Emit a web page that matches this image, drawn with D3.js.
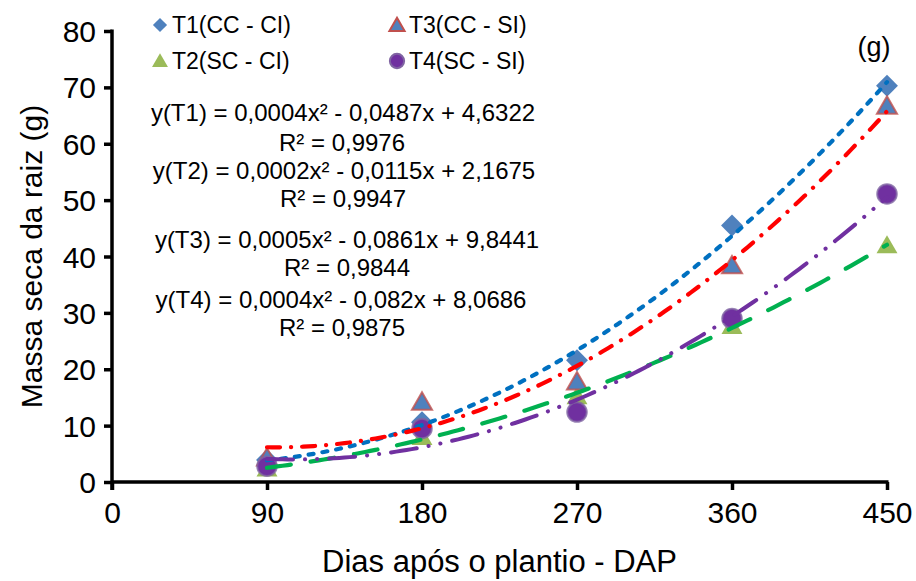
<!DOCTYPE html>
<html>
<head>
<meta charset="utf-8">
<script src="https://cdn.jsdelivr.net/npm/d3@7"></script>
<style>
  body { margin: 0; background: #fff; }
  svg { font-family: "Liberation Sans", Arial, sans-serif; }
</style>
</head>
<body>
<div id="chart"></div>
<script>
// dias após o plantio
const days = [90, 180, 270, 360, 450];
const xTicks = [0, 90, 180, 270, 360, 450];
const yTicks = [0, 10, 20, 30, 40, 50, 60, 70, 80];

// massa seca da raiz (g)
const t1 = [3.9, 10.6, 21.6, 45.5, 70.3];
const t2 = [2.4, 8.0, 15.2, 27.7, 42.0];
const t3 = [4.3, 14.2, 17.8, 38.4, 66.7];
const t4 = [2.8, 9.5, 12.4, 29.0, 51.1];

const seriesNames = ["T1(CC - CI)", "T2(SC - CI)", "T3(CC - SI)", "T4(SC - SI)"];
const equations = [
  "y(T1) = 0,0004x² - 0,0487x + 4,6322", "R² = 0,9976",
  "y(T2) = 0,0002x² - 0,0115x + 2,1675", "R² = 0,9947",
  "y(T3) = 0,0005x² - 0,0861x + 9,8441", "R² = 0,9844",
  "y(T4) = 0,0004x² - 0,082x + 8,0686", "R² = 0,9875"
];

const cte = { w: 916, h: 581 };
const margin = { top: 31, right: 29, bottom: 99, left: 112 };

const svg = d3.select("#chart").append("svg")
  .attr("width", cte.w)
  .attr("height", cte.h);

const xScale = d3.scaleLinear().domain([0, 450]).range([margin.left, cte.w - margin.right]);
const yScale = d3.scaleLinear().domain([0, 80]).range([cte.h - margin.bottom, margin.top]);

// quadratic least squares fit (as the spreadsheet trendline does)
function polyFit(xs, ys) {
  let s = [0, 0, 0, 0, 0], t = [0, 0, 0];
  xs.forEach((x, i) => {
    for (let k = 0; k < 5; k++) s[k] += Math.pow(x, k);
    for (let k = 0; k < 3; k++) t[k] += ys[i] * Math.pow(x, k);
  });
  const A = [[s[0], s[1], s[2], t[0]], [s[1], s[2], s[3], t[1]], [s[2], s[3], s[4], t[2]]];
  for (let i = 0; i < 3; i++) {
    for (let j = i + 1; j < 3; j++) {
      const f = A[j][i] / A[i][i];
      for (let k = i; k < 4; k++) A[j][k] -= f * A[i][k];
    }
  }
  const c = [0, 0, 0];
  for (let i = 2; i >= 0; i--) {
    let v = A[i][3];
    for (let k = i + 1; k < 3; k++) v -= A[i][k] * c[k];
    c[i] = v / A[i][i];
  }
  return x => c[0] + c[1] * x + c[2] * x * x;
}

// diamond = square turned 45deg
const series = [
  { vals: t1, sym: d3.symbolSquare, rot: 45, fill: "#4F81BD", stroke: "none", line: "#0070C0", dash: "5,9", lw: 4.2 },
  { vals: t2, sym: d3.symbolTriangle, rot: 0, fill: "#9BBB59", stroke: "none", line: "#00B050", dash: "24,20", lw: 4.2 },
  { vals: t3, sym: d3.symbolTriangle, rot: 0, fill: "#4F81BD", stroke: "#C0504D", line: "#FF0000", dash: "13,11,0.1,11", lw: 4.2 },
  { vals: t4, sym: d3.symbolCircle, rot: 0, fill: "#7030A0", stroke: "#8064A2", line: "#7030A0", dash: "26,12,0.1,12,0.1,12", lw: 4 }
];
const symSize = [240, 190, 175, 300];

// axes
const yAxis = d3.axisLeft(yScale).tickValues(yTicks).tickSize(8).tickPadding(8).tickSizeOuter(0);
const xAxis = d3.axisBottom(xScale).tickValues(xTicks).tickSize(8).tickPadding(12).tickSizeOuter(0);

const gy = svg.append("g").attr("transform", `translate(${margin.left},0)`).call(yAxis);
const gx = svg.append("g").attr("transform", `translate(0,${cte.h - margin.bottom})`).call(xAxis);

svg.selectAll(".domain, .tick line").style("stroke", "#000").style("stroke-width", 3.5);
gy.select(".domain").attr("d", `M0,${margin.top - 1.5}V${cte.h - margin.bottom + 8}`);
gx.select(".domain").attr("d", `M${margin.left},0H${cte.w - margin.right + 1.5}`);
svg.selectAll(".tick text").style("font-size", "30px").style("fill", "#000")
  .style("font-family", "'Liberation Sans', Arial, sans-serif");
gy.selectAll(".tick text").attr("dy", "0.35em");

// axis titles
svg.append("text")
  .attr("x", (margin.left + cte.w - margin.right) / 2)
  .attr("y", 572)
  .attr("text-anchor", "middle")
  .style("font-size", "31px")
  .text("Dias após o plantio - DAP");

svg.append("text")
  .attr("transform", `translate(42,${(margin.top + cte.h - margin.bottom) / 2}) rotate(-90)`)
  .attr("text-anchor", "middle")
  .style("font-size", "30px")
  .text("Massa seca da raiz (g)");

// markers
series.forEach((s, i) => {
  svg.append("g").selectAll("path")
    .data(s.vals)
    .enter().append("path")
    .attr("transform", (d, j) => `translate(${xScale(days[j])},${yScale(d) + (s.sym === d3.symbolTriangle ? 2 : 0)}) rotate(${s.rot})`)
    .attr("d", d3.symbol().type(s.sym).size(symSize[i]))
    .attr("fill", s.fill)
    .attr("stroke", s.stroke)
    .attr("stroke-width", 2)
    .attr("stroke-opacity", 0.8);
});

// trendlines
const xs = d3.range(90, 451, 3);
series.forEach(s => {
  const f = polyFit(days, s.vals);
  const line = d3.line().x(d => xScale(d)).y(d => yScale(f(d)));
  svg.append("path")
    .datum(xs)
    .attr("d", line)
    .attr("fill", "none")
    .attr("stroke", s.line)
    .attr("stroke-width", s.lw)
    .attr("stroke-linecap", "round")
    .attr("stroke-dasharray", s.dash);
});

// legend
const legendPos = [[160, 25], [160, 61], [397, 25], [397, 61]];
const legendSize = [100, 110, 100, 160];
series.forEach((s, i) => {
  const [lx, ly] = legendPos[i];
  svg.append("path")
    .attr("transform", `translate(${lx},${ly + (s.sym === d3.symbolTriangle ? 1.5 : 0)}) rotate(${s.rot})`)
    .attr("d", d3.symbol().type(s.sym).size(legendSize[i]))
    .attr("fill", s.fill)
    .attr("stroke", s.stroke)
    .attr("stroke-width", 2);
  svg.append("text")
    .attr("x", lx + 12)
    .attr("y", ly)
    .attr("dy", "0.35em")
    .style("font-size", "23px")
    .text(seriesNames[i]);
});

// equations
const eqY = [113, 143, 171, 199, 240, 268, 300, 328];
const eqX = [343, 342, 344, 343, 347, 347, 341, 342];
equations.forEach((t, i) => {
  svg.append("text")
    .attr("x", eqX[i])
    .attr("y", eqY[i])
    .attr("dy", "0.35em")
    .attr("text-anchor", "middle")
    .style("font-size", "24px")
    .text(t);
});

svg.append("text")
  .attr("x", 874)
  .attr("y", 47)
  .attr("dy", "0.35em")
  .attr("text-anchor", "middle")
  .style("font-size", "27px")
  .text("(g)");
</script>
</body>
</html>
